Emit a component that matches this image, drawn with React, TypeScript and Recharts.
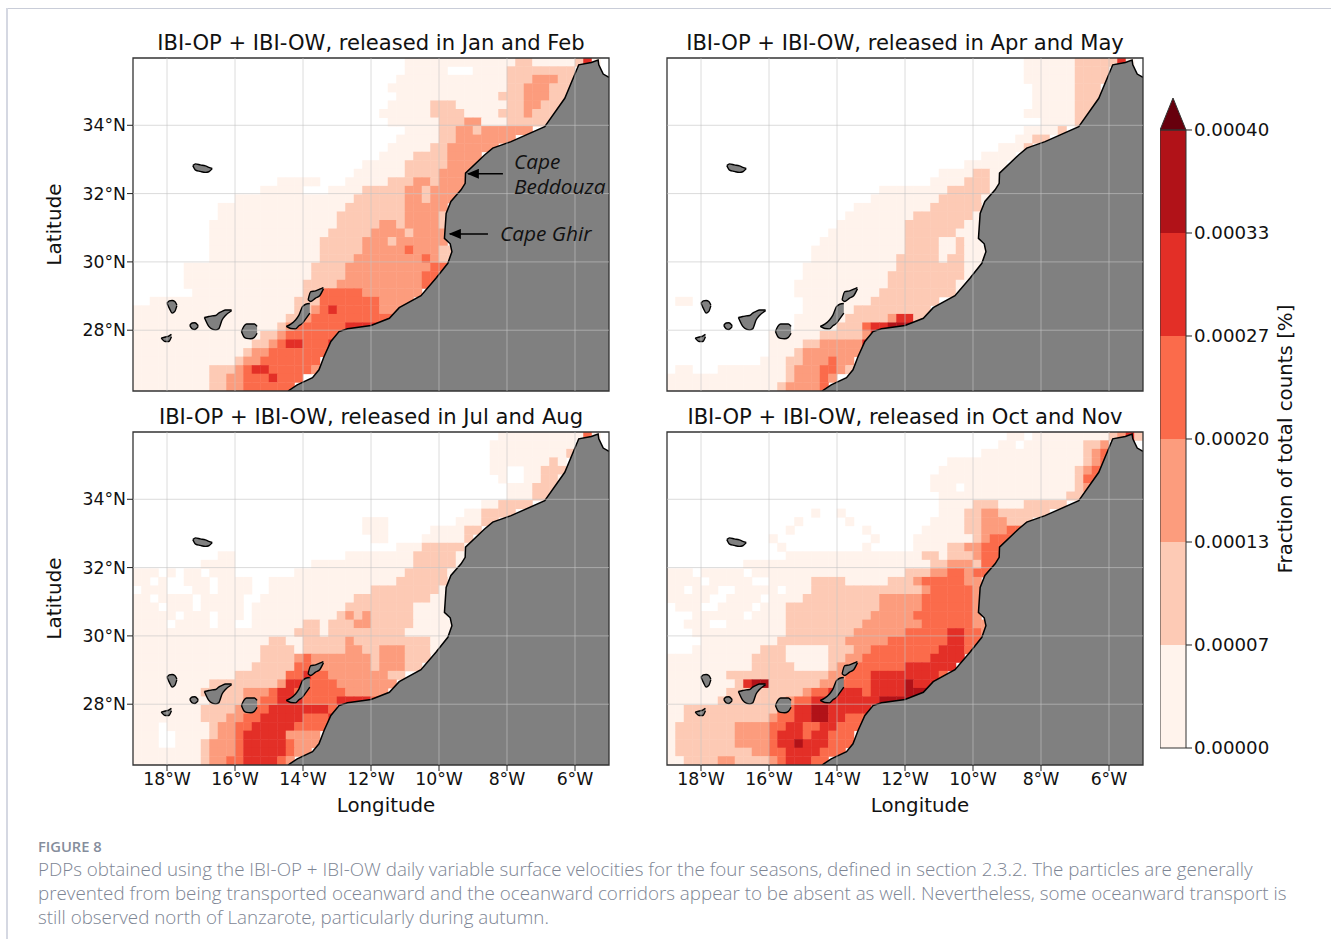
import React from 'react';
import { BarChart, Bar, ComposedChart, Area, Scatter, XAxis, YAxis, ReferenceLine, ReferenceArea } from 'recharts';

// run-length rows, north to south, 0.25 deg cells from 19W. "." = no particles, a-g = colour class
const janFebRows = [
  '32.13a2b5a1b1e1a', '32.5a3.4a8b', '31.13a3b3c3b', '30.14a2b3c3b', '31.12a3b3c2b',
  '30.5a3b6a2b2c3b', '29.6a4b4a3b1c3b', '30.6a3b2c3a5b', '32.4a2b2c1b6c', '31.5a2b7c',
  '30.5a2b6c', '29.4a4b4c', '27.5a5b4c', '26.6a4b4c', '17.5a3.5a3b2c1b4c',
  '15.5a3.4a5b2c1b4c', '12.14a6b2c1b3c', '10.15a7b5c', '10.14a8b4c1b', '9.15a5b2c1b4c1b',
  '9.14a5b4c1b4c', '9.13a5b3c1b6c', '9.13a5b5c1d3c2b', '9.13a4b8c1d1c2b', '6.15a4b10c2d',
  '6.15a4b9c2d1c', '6.14a4b10c2d', '7.13a2b5d7c', '2.17a3b7d4c', '19a2b1c1d1e5d3c',
  '18a2b1c10d', '17a1b1c6d4e', '15a2b1c7d', '14a2b1c1d2e3d1e', '13a1b2c7d',
  '12a1b2c7d', '9a3b1c1d2e5d1c', '9a2b2c3d1e3d', '9a2b2c6d',
];
const aprMayRows = [
  '42.6a5b1e1a', '42.6a4b', '42.6a4b', '43.5a3b', '43.5a3b',
  '43.5a3b', '42.6a2b', '44.4a1b', '42.4a1b', '41.2a2b',
  '39.3a1b', '37.4a', '35.5a', '32.4a2b2a', '31.4a3b2a',
  '25.8a5b1a', '24.8a5b1a', '22.9a6b', '21.8a7b1a', '20.8a7b2a',
  '19.9a6b3a', '18.10a4b2a1b2a', '17.11a4b2a1b3a', '17.10a5b1a2b3a', '16.11a8b2a',
  '16.10a9b1a', '15.11a8b1a', '15.10a9b1a', '1.2a13.8a8b', '16.6a9b',
  '15.6a5b1c2e2b', '15.5a3b1d2e3f', '12.6a5b1c1e1e', '12.4a2b5c1e', '12.3a1b7c',
  '11.3a2b3c1d2c', '1.2a3.8a1b3c2d1c1b', '14a1b3c1d1c', '13a1b4c1d',
];
const julAugRows = [
  '43.10a1d1a', '42.10a', '42.9a1b', '42.7a1b1a', '42.2a2.2a3b1a',
  '43.1a2.2a2b1a', '44.3a3b', '44.3a2b', '41.2a4b', '39.2a4b',
  '27.3a8.3a2b', '27.3a5.4a2b', '28.2a4.5a1b', '31.3a5b1a', '10.2a13.8a5b1a',
  '8.4a9.12a5b1a', '3a1.1a1.2a1.3a7.13a5b1a', '2a1.1a2.3a1.4a2.15a6b', '1.3a3.2a1.4a2.12a8b1a', '2a1.4a1.5a2.11a9b2a',
  '3a1.3a1.5a1.11a8b4a', '5a1.3a1.3a1.10a1b1c1b1c5b4a', '4a1.4a1.2a2.6a2b1a3b2c5b5a', '19a3b1a9b6a', '16a2b2a5b1c9b2a',
  '15a4b1a5b2c2b3c3b1a', '15a4b1c1d7c1b3c3b', '14a5b2d7c1b3c2b', '12a6b2d1e2d7c2b', '9a8b1c2e4d7c',
  '8a5b3c1d2e6d5c', '9a4b2c2d3e4d4e1d', '8a4b2c2d7e1d', '8a3b2c2d5e3d1e', '3a1.5a1b2c2d5e4d',
  '3a2.4a1b2c1d5e4c', '3a2.3a1b3c1d5e1d3c', '8a1b3c1d5e1d2c', '8a1b2c2d4e1d1c',
];
const octNovRows = [
  '40.2a1.9a1b1c1e1b', '39.2a1.7a2b1c', '37.12a1b1c1d', '33.16a1b1c1d', '32.16a1b1c2d',
  '31.17a1b2d', '31.3a1.13a1b2c', '32.15a2b', '32.4a3b3a5b', '17.1a2.1a11.3a2b2c6b',
  '15.1a5.1a9.4a2b3c3b', '14.1a8.1a6.5a2b3c2d', '12.1a11.1a4.7a1b1c3d', '13.1a9.1a5.4a2b2c3d', '14.16a2b1a3b1c3d',
  '9.22a2b3c1b2d', '3a1.5a1.18a3b2c2d1c2d', '4a1.5a2.5a4b5a3b1c5d2c', '2a1.3a2.5a1.3a13b1c5d1c', '5a2.4a1.4a9b5c6d1c',
  '1.3a2.4a1.3a11b5c6d1c', '3.6a1.4a10b5c7d1c', '2.3a2.7a9b7c6d2c', '3.11a8b6c5d2e2d1c', '4.9a8b5c7d2e2d',
  '3.8a3b5a3b2c8d3e1d', '10a4b5a2b2c8d4e', '10a5b4a1b2c6d6e', '7a12b2c3d8e1d', '8a1b1e2f6b2c4d4e1f3e',
  '7a9b1c2d4e1d4e3f', '6a8b1c2d8e3f1f', '2a11b2d2e2f5e', '2a10b1c2d2e2f2e3d', '1a7b4c2d2e2d2e3d',
  '1a7b4c1d3e1d2e3d', '1a7b4c1d2e1f3e3d', '1a9b2c2d4e3d', '2a4b2c4b1c1d3e2d',
];

const coastLon = [-14.44, -14.17, -13.72, -13.53, -13.38, -13.18, -12.94, -12.69, -12.0, -11.46, -11.17, -10.53, -10.09, -9.74, -9.62, -9.67, -9.84, -9.79, -9.65, -9.35, -9.23, -9.22, -8.66, -8.42, -7.88, -6.89, -6.3, -5.89, -5.52, -5.32, -5.3, -5.17, -5.0];
const coastLat = [26.22, 26.4, 26.61, 26.84, 27.23, 27.67, 27.96, 28.04, 28.14, 28.35, 28.66, 29.01, 29.52, 29.96, 30.3, 30.53, 30.69, 31.42, 31.77, 32.11, 32.3, 32.6, 33.13, 33.33, 33.52, 33.96, 34.79, 35.77, 35.84, 35.91, 35.77, 35.5, 35.4];

// lon, south edge, north edge
const islands = [
  [[-18.0, 28.79, 28.79], [-17.93, 28.64, 28.86], [-17.85, 28.5, 28.87], [-17.77, 28.55, 28.84], [-17.71, 28.72, 28.74]],
  [[-17.33, 28.14, 28.14], [-17.26, 28.04, 28.21], [-17.18, 28.02, 28.22], [-17.08, 28.11, 28.13]],
  [[-18.17, 27.77, 27.77], [-18.05, 27.67, 27.8], [-17.95, 27.67, 27.83], [-17.87, 27.81, 27.88]],
  [[-16.9, 28.37, 28.37], [-16.77, 28.11, 28.4], [-16.67, 28.03, 28.42], [-16.57, 28.01, 28.43], [-16.48, 28.04, 28.5], [-16.38, 28.3, 28.55], [-16.28, 28.43, 28.59], [-16.1, 28.57, 28.59]],
  [[-15.81, 27.96, 27.96], [-15.74, 27.81, 28.11], [-15.66, 27.76, 28.18], [-15.54, 27.75, 28.18], [-15.43, 27.79, 28.18], [-15.35, 27.91, 28.11]],
  [[-14.49, 28.11, 28.11], [-14.36, 28.05, 28.18], [-14.22, 28.04, 28.3], [-14.12, 28.13, 28.44], [-14.02, 28.2, 28.68], [-13.92, 28.33, 28.76], [-13.8, 28.5, 28.78]],
  [[-13.85, 28.89, 28.89], [-13.77, 28.84, 29.13], [-13.63, 28.94, 29.15], [-13.51, 29.01, 29.2], [-13.4, 29.21, 29.25]],
  [[-17.24, 32.82, 32.82], [-17.16, 32.69, 32.87], [-17.02, 32.65, 32.84], [-16.87, 32.62, 32.81], [-16.77, 32.64, 32.77], [-16.67, 32.73, 32.74]],
];

const classColors: Record<string, string> = {
  a: '#fff3ec', b: '#fdcab5', c: '#fc9c7d', d: '#fb6b4b', e: '#e32f27', f: '#b11218', g: '#67000d',
};
const barColors = ['#fff3ec', '#fdcab5', '#fc9c7d', '#fb6b4b', '#e32f27', '#b11218'];
const levels = [0, 0.00006667, 0.00013333, 0.0002, 0.00026667, 0.00033333, 0.0004];
const levelKeys = ['l0', 'l1', 'l2', 'l3', 'l4', 'l5'];
const lonTicks = [-18, -16, -14, -12, -10, -8, -6];
const latTicks = [28, 30, 32, 34];

const LON0 = -19;
const LON1 = -5;
const LAT0 = 26.22;
const LAT1 = 35.97;
const STEP = 0.25;
const FONT = '"DejaVu Sans", sans-serif';

const expandRows = (rows: string[]) => {
  const cells: { lon: number; lat: number; cls: string }[] = [];
  rows.forEach((row, r) => {
    let col = 0;
    for (const m of row.matchAll(/(\d+)([.a-g])/g)) {
      const n = Number(m[1]);
      if (m[2] !== '.') {
        for (let i = 0; i < n; i++) {
          cells.push({ lon: LON0 + (col + i + 0.5) * STEP, lat: LAT1 - (r + 0.5) * STEP, cls: m[2] });
        }
      }
      col += n;
    }
  });
  return cells;
};

const coast = coastLon.map((lon, i) => ({ lon, coast: coastLat[i] }));
const islandData = islands.map((pts) => pts.map(([lon, lo, hi]) => ({ lon, range: [lo, hi] })));

const HeatCell = (props: any) => (
  <rect
    x={props.cx - 4.5}
    y={props.cy - 4.5}
    width={9}
    height={9}
    fill={classColors[props.payload.cls]}
  />
);

const ArrowLine = (props: any) => (
  <line x1={props.x1} y1={props.y1} x2={props.x2} y2={props.y2} stroke="#000" strokeWidth={1.5} markerEnd="url(#head)" />
);

const lonLabel = (v: number) => `${Math.abs(v)}°W`;
const latLabel = (v: number) => `${v}°N`;
const tickStyle = { fill: '#111', fontSize: 17.3, fontFamily: FONT };

interface PanelProps {
  title: string;
  rows: string[];
  left: number;
  top: number;
  showX: boolean;
  showY: boolean;
  children?: React.ReactNode;
}

const MapPanel = ({ title, rows, left, top, showX, showY, children }: PanelProps) => {
  const cells = expandRows(rows);
  const extra: any = { zIndex: 50 };
  return (
    <div style={{ position: 'absolute', left: left - 133, top: top - 10 }}>
      <ComposedChart width={619} height={413} margin={{ top: 10, right: 10, bottom: 10, left: 40 }}>
        <XAxis
          type="number"
          dataKey="lon"
          domain={[LON0, LON1]}
          allowDataOverflow
          ticks={lonTicks}
          tickFormatter={lonLabel}
          tick={showX ? tickStyle : false}
          tickLine={showX ? { stroke: '#222' } : false}
          axisLine={false}
          height={60}
        />
        <YAxis
          type="number"
          dataKey="lat"
          domain={[LAT0, LAT1]}
          allowDataOverflow
          ticks={latTicks}
          tickFormatter={latLabel}
          tick={showY ? tickStyle : false}
          tickLine={showY ? { stroke: '#222' } : false}
          tickMargin={1}
          axisLine={false}
          width={93}
          label={showY ? { value: 'Latitude', angle: -90, position: 'insideLeft', offset: 14, style: { fontSize: 20, fontFamily: FONT, fill: '#111', textAnchor: 'middle' } } : undefined}
        />
        <Scatter data={cells} shape={HeatCell} isAnimationActive={false} {...extra} />
        <Area
          data={coast}
          dataKey="coast"
          type="linear"
          baseValue={LAT0}
          fill="#808080"
          fillOpacity={1}
          stroke="#000"
          strokeWidth={1.5}
          dot={false}
          activeDot={false}
          isAnimationActive={false}
        />
        {islandData.map((pts, i) => (
          <Area
            key={i}
            data={pts}
            dataKey="range"
            type="monotone"
            fill="#808080"
            fillOpacity={1}
            stroke="#000"
            strokeWidth={1.4}
            dot={false}
            activeDot={false}
            isAnimationActive={false}
          />
        ))}
        {lonTicks.map((v) => (
          <ReferenceLine key={v} x={v} stroke="#c4c4c4" strokeOpacity={0.6} />
        ))}
        {latTicks.map((v) => (
          <ReferenceLine key={v} y={v} stroke="#c4c4c4" strokeOpacity={0.6} />
        ))}
        {children}
        <ReferenceArea x1={LON0} x2={LON1} y1={LAT0} y2={LAT1} fill="none" stroke="#333" strokeWidth={1.3} ifOverflow="visible" />
      </ComposedChart>
      <div style={{ position: 'absolute', left: 133, top: -17, width: 476, textAlign: 'center', fontFamily: FONT, fontSize: 21.1, lineHeight: '24px', color: '#111', whiteSpace: 'nowrap' }}>
        {title}
      </div>
      {showX && (
        <div style={{ position: 'absolute', left: 148, top: 372, width: 476, textAlign: 'center', fontFamily: FONT, fontSize: 19.8, lineHeight: '24px', color: '#111' }}>
          Longitude
        </div>
      )}
    </div>
  );
};

const Triangle = (props: any) => {
  const { x, y, width, height } = props;
  return <path d={`M${x},${y + height}L${x + width / 2},${y}L${x + width},${y + height}Z`} fill="#67000d" stroke="#333" strokeWidth={1} />;
};

const barRow = [{
  name: 'cb',
  ...Object.fromEntries(levelKeys.map((k, i) => [k, levels[i + 1] - levels[i]])),
  over: 0.00002071,
}];

const ColorBar = () => {
  const front: any = { zIndex: 900 };
  return (
    <div style={{ position: 'absolute', left: 1160, top: 98 }}>
      <BarChart width={160} height={660} data={barRow} barCategoryGap={0} margin={{ top: 0, right: 0, bottom: 10, left: 0 }}>
        <XAxis dataKey="name" hide />
        <YAxis
          orientation="right"
          type="number"
          domain={[0, 0.00042071]}
          ticks={levels}
          interval={0}
          tickFormatter={(v: number) => v.toFixed(5)}
          tick={{ ...tickStyle, fontSize: 18.2 }}
          tickLine={{ stroke: '#222' }}
          axisLine={false}
          width={134}
        />
        {levelKeys.map((k, i) => (
          <Bar key={k} dataKey={k} stackId="cb" fill={barColors[i]} isAnimationActive={false} />
        ))}
        <Bar dataKey="over" stackId="cb" shape={Triangle} isAnimationActive={false} />
        <ReferenceArea y1={0} y2={0.0004} fill="none" stroke="#333" strokeWidth={1} ifOverflow="visible" {...front} />
      </BarChart>
    </div>
  );
};

const noteStyle: React.CSSProperties = {
  position: 'absolute', fontFamily: '"Open Sans", sans-serif', fontStyle: 'italic', fontSize: 20.8, lineHeight: '25px', color: '#111', whiteSpace: 'nowrap',
};

const captionLines = [
  'PDPs obtained using the IBI-OP + IBI-OW daily variable surface velocities for the four seasons, defined in section 2.3.2. The particles are generally',
  'prevented from being transported oceanward and the oceanward corridors appear to be absent as well. Nevertheless, some oceanward transport is',
  'still observed north of Lanzarote, particularly during autumn.',
];

export default function App() {
  return (
    <div style={{ position: 'absolute', left: 0, top: 0, width: 1331, height: 939, background: '#fff', overflow: 'hidden' }}>
      <svg width={0} height={0} style={{ position: 'absolute' }}>
        <defs>
          <marker id="head" markerWidth={12} markerHeight={10} refX={11} refY={5} orient="auto" markerUnits="userSpaceOnUse">
            <path d="M0,0L12,5L0,10Z" fill="#000" />
          </marker>
        </defs>
      </svg>
      <div style={{ position: 'absolute', left: 8, top: 8, width: 1323, height: 1, background: '#c9cdd8' }} />
      <div style={{ position: 'absolute', left: 6, top: 8, width: 2, height: 931, background: '#d5d8e2' }} />

      <MapPanel title="IBI-OP + IBI-OW, released in Jan and Feb" rows={janFebRows} left={133} top={58} showX={false} showY>
        <ReferenceLine segment={[{ x: -8.12, y: 32.58 }, { x: -9.15, y: 32.58 }]} shape={ArrowLine} />
        <ReferenceLine segment={[{ x: -8.56, y: 30.82 }, { x: -9.68, y: 30.82 }]} shape={ArrowLine} />
      </MapPanel>
      <MapPanel title="IBI-OP + IBI-OW, released in Apr and May" rows={aprMayRows} left={667} top={58} showX={false} showY={false} />
      <MapPanel title="IBI-OP + IBI-OW, released in Jul and Aug" rows={julAugRows} left={133} top={432} showX showY />
      <MapPanel title="IBI-OP + IBI-OW, released in Oct and Nov" rows={octNovRows} left={667} top={432} showX showY={false} />
      <ColorBar />
      <div style={{ position: 'absolute', left: 1285, top: 439, transform: 'translate(-50%, -50%) rotate(-90deg)', fontFamily: FONT, fontSize: 19.8, color: '#111', whiteSpace: 'nowrap' }}>
        Fraction of total counts [%]
      </div>

      <div style={{ ...noteStyle, left: 514, top: 149 }}>Cape<br />Beddouza</div>
      <div style={{ ...noteStyle, left: 500, top: 221 }}>Cape Ghir</div>

      <div style={{ position: 'absolute', left: 38, top: 836, fontFamily: '"Open Sans", sans-serif', fontWeight: 600, fontSize: 14.7, lineHeight: '20px', color: '#858d9c' }}>FIGURE 8</div>
      <div style={{ position: 'absolute', left: 38, top: 857, fontFamily: '"Open Sans", sans-serif', fontWeight: 300, fontSize: 18.8, lineHeight: '24px', color: '#7d8594', whiteSpace: 'nowrap' }}>
        {captionLines.map((l) => <div key={l}>{l}</div>)}
      </div>
    </div>
  );
}
